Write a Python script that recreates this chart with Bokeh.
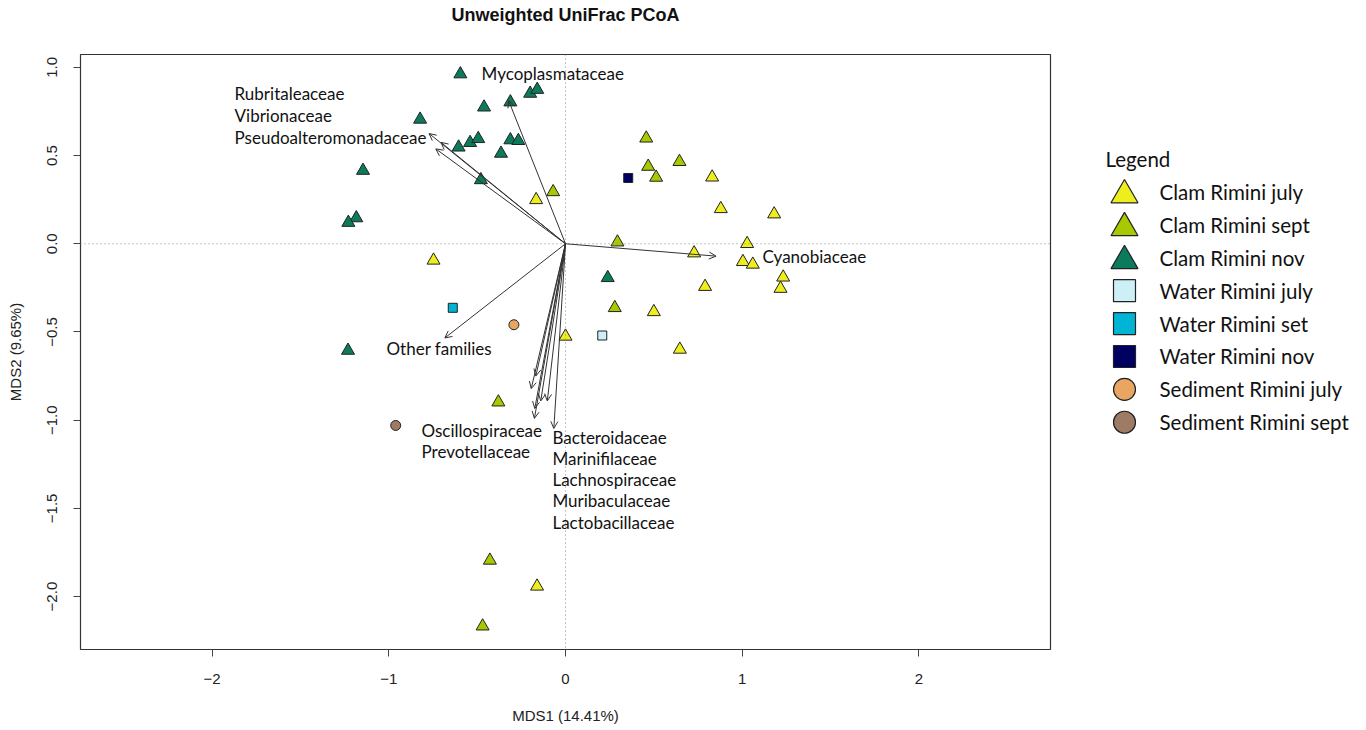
from bokeh.plotting import figure
from bokeh.models import (ColumnDataSource, Arrow, OpenHead, Span, FixedTicker,
                          CustomJSTickFormatter, Range1d, Title)
from bokeh.layouts import row
from bokeh.embed import file_html
from bokeh.resources import INLINE
from bokeh.core.properties import value

# ---------------- data ----------------
groups = ["Clam Rimini july", "Clam Rimini sept", "Clam Rimini nov",
          "Water Rimini july", "Water Rimini set", "Water Rimini nov",
          "Sediment Rimini july", "Sediment Rimini sept"]
group_colors = ["#EEEE1E", "#A8C800", "#0B7B5C",
                "#CCF0F6", "#00B4D6", "#000060",
                "#E9A663", "#9E7B65"]
group_markers = ["triangle", "triangle", "triangle",
                 "square", "square", "square",
                 "circle", "circle"]

clam_july_x = [-0.166, -0.747, 0.000, 0.830, 0.879, 1.181, 1.028, 0.728,
               1.004, 1.060, 1.232, 1.217, 0.790, 0.500, 0.647, -0.161]
clam_july_y = [0.249, -0.094, -0.525, 0.377, 0.198, 0.168, 0.000, -0.053,
               -0.102, -0.117, -0.190, -0.254, -0.243, -0.386, -0.599, -1.942]

clam_sept_x = [-0.070, 0.294, 0.457, 0.468, 0.513, 0.645, 0.279, -0.380,
               -0.428, -0.469]
clam_sept_y = [0.294, 0.009, 0.598, 0.438, 0.376, 0.465, -0.363, -0.898,
               -1.795, -2.168]

clam_nov_x = [-0.595, -0.823, -0.461, -0.312, -0.200, -0.160, -0.605, -0.540,
              -0.494, -0.312, -0.267, -0.365, -0.479, -1.146, -1.184, -1.229,
              -1.231, 0.239]
clam_nov_y = [0.962, 0.705, 0.774, 0.803, 0.852, 0.874, 0.547, 0.573,
              0.595, 0.588, 0.584, 0.512, 0.362, 0.415, 0.146, 0.120,
              -0.605, -0.193]

water_july_x = [0.208]
water_july_y = [-0.520]
water_set_x = [-0.638]
water_set_y = [-0.363]
water_nov_x = [0.355]
water_nov_y = [0.373]
sed_july_x = [-0.292]
sed_july_y = [-0.459]
sed_sept_x = [-0.961]
sed_sept_y = [-1.030]

families = ["Mycoplasmataceae", "Rubritaleaceae", "Vibrionaceae",
            "Pseudoalteromonadaceae", "Cyanobiaceae", "Other families",
            "Oscillospiraceae", "Prevotellaceae", "Bacteroidaceae",
            "Marinifilaceae", "Lachnospiraceae", "Muribaculaceae",
            "Lactobacillaceae"]
load_x = [-0.322, -0.772, -0.705, -0.734, 0.852, -0.683, -0.194, -0.176,
          -0.066, -0.140, -0.103, -0.168, -0.174]
load_y = [0.812, 0.625, 0.575, 0.538, -0.070, -0.534, -0.821, -0.990,
          -1.047, -0.891, -0.891, -0.750, -0.934]
label_x = [-0.475, -1.873, -1.873, -1.873, 1.115, -1.013, -0.815, -0.815,
           -0.074, -0.074, -0.074, -0.074, -0.074]
label_y = [0.966, 0.853, 0.729, 0.605, -0.073, -0.593, -1.056, -1.175,
           -1.096, -1.220, -1.339, -1.458, -1.582]

x_ticks = [-2, -1, 0, 1, 2]
y_ticks = [-2.0, -1.5, -1.0, -0.5, 0.0, 0.5, 1.0]

series_x = [clam_july_x, clam_sept_x, clam_nov_x, water_july_x, water_set_x,
            water_nov_x, sed_july_x, sed_sept_x]
series_y = [clam_july_y, clam_sept_y, clam_nov_y, water_july_y, water_set_y,
            water_nov_y, sed_july_y, sed_sept_y]

# ---------------- layout constants (screen px) ----------------
FR_L, FR_T, FR_W, FR_H = 80, 54, 970, 597
MAIN_W, H = 1088, 726
LEG_W = 270

AX_FONT = "Liberation Sans"
LBL_FONT = "Lato"

p = figure(width=MAIN_W, height=H, output_backend="svg", toolbar_location=None,
           x_range=Range1d(-2.745, 2.745), y_range=Range1d(-2.30, 1.073),
           min_border_left=FR_L, min_border_right=MAIN_W - FR_L - FR_W,
           min_border_top=FR_T, min_border_bottom=H - FR_T - FR_H)
p.grid.visible = False
p.outline_line_color = "#333333"
p.outline_line_width = 1.2
p.background_fill_color = "white"
p.border_fill_color = "white"

# spacer panel next to the frame, then the real title further out
p.add_layout(Title(text=" ", text_font_size="1px", standoff=24), "above")
p.add_layout(Title(text="Unweighted UniFrac PCoA", align="center",
                   vertical_align="top", standoff=2, text_font=AX_FONT,
                   text_font_size="18px", text_font_style="bold",
                   text_color="#111111"), "above")

for ax in (p.xaxis[0], p.yaxis[0]):
    ax.axis_line_color = None
    ax.minor_tick_line_color = None
    ax.major_tick_in = 0
    ax.major_tick_out = 7
    ax.major_tick_line_color = "#444444"
    ax.major_label_text_font = AX_FONT
    ax.major_label_text_font_size = "15px"
    ax.major_label_text_color = "#222222"
    ax.axis_label_text_font = AX_FONT
    ax.axis_label_text_font_size = "15px"
    ax.axis_label_text_font_style = "normal"
    ax.axis_label_text_color = "#222222"

p.xaxis[0].major_label_standoff = 17
p.yaxis[0].major_label_standoff = 16
p.xaxis[0].ticker = FixedTicker(ticks=x_ticks)
p.yaxis[0].ticker = FixedTicker(ticks=y_ticks)
p.xaxis[0].formatter = CustomJSTickFormatter(
    code="return tick.toFixed(0).replace('-', '\u2212');")
p.yaxis[0].formatter = CustomJSTickFormatter(
    code="return tick.toFixed(1).replace('-', '\u2212');")
p.yaxis[0].major_label_orientation = "vertical"
p.xaxis[0].axis_label = "MDS1 (14.41%)"
p.yaxis[0].axis_label = "MDS2 (9.65%)"
p.xaxis[0].axis_label_standoff = 20
p.yaxis[0].axis_label_standoff = 21

p.add_layout(Span(location=0, dimension="width", line_color="#8a8a8a",
                  line_dash="1 3", line_width=1))
p.add_layout(Span(location=0, dimension="height", line_color="#8a8a8a",
                  line_dash="1 3", line_width=1))

main_sizes = {"triangle": 13, "square": 9, "circle": 10}
for gx, gy, col, mk in zip(series_x, series_y, group_colors, group_markers):
    p.scatter(gx, gy, marker=mk, size=main_sizes[mk], fill_color=col,
              line_color="#222222", line_width=1)

asrc = ColumnDataSource(dict(x0=[0.0] * len(load_x), y0=[0.0] * len(load_y),
                             x1=load_x, y1=load_y))
p.add_layout(Arrow(end=OpenHead(size=7, line_color="#333333", line_width=1),
                   x_start="x0", y_start="y0", x_end="x1", y_end="y1",
                   source=asrc, line_color="#333333", line_width=1))

lsrc = ColumnDataSource(dict(x=label_x, y=label_y, t=families))
p.text(x="x", y="y", text="t", source=lsrc, text_font=value(LBL_FONT),
       text_font_size="17px", text_baseline="middle", text_align="left",
       text_color="#111111")

# ---------------- legend panel (coordinates = screen px) ----------------
lg = figure(width=LEG_W, height=H, output_backend="svg", toolbar_location=None,
            x_range=Range1d(MAIN_W, MAIN_W + LEG_W),
            y_range=Range1d(FR_T + FR_H, FR_T),
            x_axis_location=None, y_axis_location=None, min_border=0)
lg.grid.visible = False
lg.outline_line_color = None

item_step = 33
item_y0 = 192
leg_sizes = {"triangle": 27, "square": 22, "circle": 22}
leg_dy = {"triangle": 3, "square": 0, "circle": 0}
for i, (name, col, mk) in enumerate(zip(groups, group_colors, group_markers)):
    yy = item_y0 + i * item_step
    lg.scatter([1124], [yy + leg_dy[mk]], marker=mk, size=leg_sizes[mk],
               fill_color=col, line_color="#222222", line_width=1.2)
    lg.text([1159], [yy], text=[name], text_font=value(LBL_FONT),
            text_font_size="20.5px", text_baseline="middle", text_align="left",
            text_color="#111111")
lg.text([1105], [159], text=["Legend"], text_font=value(LBL_FONT),
        text_font_size="20.5px", text_baseline="middle", text_align="left",
        text_color="#111111")

layout = row(p, lg)
open("out.html", "w").write(file_html(layout, INLINE))
